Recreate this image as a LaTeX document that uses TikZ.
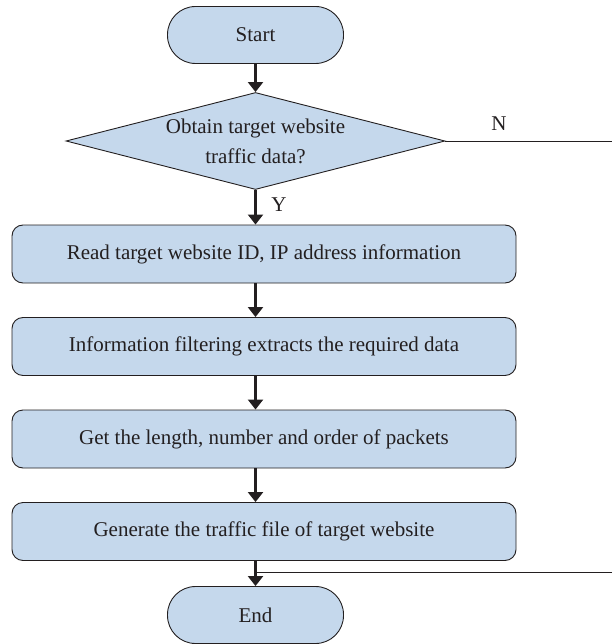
\documentclass[tikz,border=0pt]{standalone}
\usepackage{fontspec}
\setmainfont{Liberation Serif}
\usetikzlibrary{shapes.geometric,arrows.meta}
\definecolor{boxfill}{RGB}{197,216,236}
\definecolor{edge}{RGB}{35,31,32}
\tikzset{
  term/.style={draw=edge,fill=boxfill,text=edge,line width=0.9pt,rectangle,rounded corners=28pt,minimum width=176pt,minimum height=57pt,inner sep=0pt,font=\fontsize{21}{25}\selectfont},
  procbox/.style={draw=edge,fill=boxfill,text=edge,line width=0.9pt,rectangle,rounded corners=11pt,minimum width=504pt,minimum height=58pt,inner sep=0pt,font=\fontsize{21}{25}\selectfont},
  decision/.style={draw=edge,fill=boxfill,text=edge,line width=0.9pt,diamond,aspect=3.9,minimum width=379pt,minimum height=97pt,inner sep=0pt,align=center,font=\fontsize{21}{30}\selectfont},
  arr/.style={draw=edge,line width=2.2pt,-{Triangle[width=15pt,length=10pt]}},
  plain/.style={draw=edge,line width=0.9pt},
  lbl/.style={text=edge,font=\fontsize{21}{25}\selectfont,inner sep=0pt}
}
\begin{document}
\begin{tikzpicture}[x=1pt,y=-1pt]
\useasboundingbox (0,0) rectangle (612,644);
\node[term] (s) at (255.5,35) {Start};
\node[decision] (d) at (255.5,141) {Obtain target website\\traffic data?};
\node[procbox] (b1) at (264,254) {Read target website ID, IP address information};
\node[procbox] (b2) at (264,346.5) {Information filtering extracts the required data};
\node[procbox] (b3) at (264,439) {Get the length, number and order of packets};
\node[procbox] (b4) at (264,531.5) {Generate the traffic file of target website};
\node[term] (e) at (255.5,615) {End};
\coordinate (r1) at (612,141);
\coordinate (r2) at (612,572);
\node[lbl] (n) at (499,124) {N};
\node[lbl] (y) at (279,205) {Y};
\draw[arr] (s.south) -- (d.north);
\draw[arr] (d.south) -- (d.south |- b1.north);
\draw[arr] (b1.south -| s.south) -- (b2.north -| s.south);
\draw[arr] (b2.south -| s.south) -- (b3.north -| s.south);
\draw[arr] (b3.south -| s.south) -- (b4.north -| s.south);
\draw[arr] (b4.south -| e.north) -- (e.north);
\draw[plain] (d.east) -- (r1);
\draw[plain] (r2) -- (r2 -| e.north);
\end{tikzpicture}
\end{document}
